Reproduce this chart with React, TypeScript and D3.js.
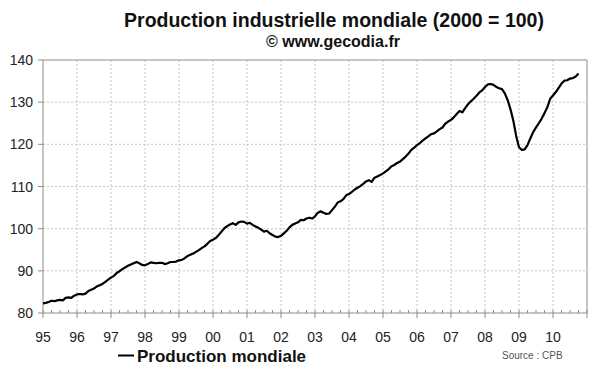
import React from "react";
import * as d3 from "d3";

// monthly index, 2000 = 100, Jan 1995 -> Oct 2010
const values1995 = [82.3, 82.4, 82.6, 82.9, 82.8, 83.0, 83.1, 83.0, 83.6, 83.7, 83.6, 84.1];
const values1996 = [84.4, 84.5, 84.4, 84.6, 85.2, 85.5, 85.8, 86.3, 86.6, 86.9, 87.4, 87.9];
const values1997 = [88.4, 88.8, 89.5, 89.9, 90.4, 90.8, 91.2, 91.5, 91.8, 92.1, 91.8, 91.4];
const values1998 = [91.3, 91.6, 92.0, 91.9, 91.8, 91.9, 91.9, 91.6, 91.8, 92.1, 92.1, 92.2];
const values1999 = [92.5, 92.6, 93.0, 93.5, 93.8, 94.1, 94.5, 94.9, 95.4, 95.8, 96.4, 97.1];
const values2000 = [97.4, 97.8, 98.5, 99.3, 100.1, 100.6, 101.0, 101.3, 100.9, 101.5, 101.7, 101.6];
const values2001 = [101.2, 101.4, 100.9, 100.5, 100.2, 99.8, 99.3, 99.5, 98.9, 98.5, 98.1, 98.0];
const values2002 = [98.3, 98.9, 99.5, 100.3, 100.9, 101.2, 101.5, 102.1, 102.0, 102.4, 102.6, 102.4];
const values2003 = [102.9, 103.8, 104.1, 103.8, 103.5, 103.6, 104.4, 105.2, 106.2, 106.5, 107.0, 107.9];
const values2004 = [108.2, 108.7, 109.3, 109.7, 110.1, 110.6, 111.2, 111.5, 111.1, 112.1, 112.4, 112.7];
const values2005 = [113.1, 113.6, 114.1, 114.8, 115.1, 115.6, 115.9, 116.5, 117.1, 117.8, 118.7, 119.2];
const values2006 = [119.8, 120.3, 120.9, 121.4, 121.9, 122.4, 122.6, 123.1, 123.6, 124.0, 124.9, 125.4];
const values2007 = [125.8, 126.4, 127.2, 127.9, 127.6, 128.6, 129.5, 130.2, 130.8, 131.5, 132.3, 132.8];
const values2008 = [133.6, 134.2, 134.3, 134.1, 133.6, 133.3, 133.1, 132.1, 130.5, 128.3, 125.6, 122.0];
const values2009 = [119.3, 118.7, 118.8, 119.8, 121.4, 122.9, 124.0, 125.0, 126.1, 127.4, 128.8, 130.8];
const values2010 = [131.6, 132.4, 133.4, 134.4, 135.1, 135.2, 135.6, 135.7, 136.1, 136.8];

const production = [
  ...values1995, ...values1996, ...values1997, ...values1998,
  ...values1999, ...values2000, ...values2001, ...values2002,
  ...values2003, ...values2004, ...values2005, ...values2006,
  ...values2007, ...values2008, ...values2009, ...values2010,
];

const yearLabels = ["95", "96", "97", "98", "99", "00", "01", "02", "03", "04", "05", "06", "07", "08", "09", "10"];
const yTicks = [80, 90, 100, 110, 120, 130, 140];

const left = 43;
const right = 587;
const top = 60;
const bottom = 313;
const axisColor = "#8c8c8c";
const font = "Arial, 'Liberation Sans', sans-serif";

const App = () => {
  const nMonths = yearLabels.length * 12;
  const x = d3.scaleLinear().domain([0, nMonths]).range([left, right]);
  const y = d3.scaleLinear().domain([80, 140]).range([bottom, top]);

  const line = d3
    .line<number>()
    .x((d, i) => x(i))
    .y((d) => y(d));

  const minorTicks = d3.range(0, nMonths + 1, 3).filter((m) => m % 12 !== 0);
  const majorTicks = d3.range(0, nMonths + 1, 12);

  return (
    <svg
      width={600}
      height={372}
      style={{ position: "absolute", left: 0, top: 0, background: "#fff" }}
      fontFamily={font}
    >
      <text x={334} y={27} textAnchor="middle" fontSize={19.5} fontWeight="bold" fill="#111">
        Production industrielle mondiale (2000 = 100)
      </text>
      <text x={333} y={47} textAnchor="middle" fontSize={16} fontWeight="bold" fill="#111">
        © www.gecodia.fr
      </text>

      {/* grid */}
      {yTicks.filter((t) => t > 80 && t < 140).map((t) => (
        <line key={"gy" + t} x1={left} x2={right} y1={y(t)} y2={y(t)}
          stroke="#c4c4c4" strokeDasharray="2,2" />
      ))}
      {majorTicks.filter((m) => m > 0 && m < nMonths).map((m) => (
        <line key={"gx" + m} x1={x(m)} x2={x(m)} y1={top} y2={bottom}
          stroke="#c4c4c4" strokeDasharray="2,2" />
      ))}

      {/* frame */}
      <line x1={left} x2={right} y1={top} y2={top} stroke={axisColor} />
      <line x1={right} x2={right} y1={top} y2={bottom} stroke={axisColor} />
      <line x1={left} x2={left} y1={top} y2={bottom} stroke={axisColor} />
      <line x1={left} x2={right} y1={bottom} y2={bottom} stroke={axisColor} />

      {/* y axis */}
      {yTicks.map((t) => (
        <g key={"yt" + t}>
          <line x1={left - 5} x2={left} y1={y(t)} y2={y(t)} stroke={axisColor} />
          <text x={33} y={y(t) + 5} textAnchor="end" fontSize={14} fill="#222">{t}</text>
        </g>
      ))}

      {/* x axis */}
      {majorTicks.map((m) => (
        <line key={"xt" + m} x1={x(m)} x2={x(m)} y1={bottom - 3} y2={bottom + 5} stroke={axisColor} />
      ))}
      {minorTicks.map((m) => (
        <line key={"xm" + m} x1={x(m)} x2={x(m)} y1={bottom - 3} y2={bottom} stroke={axisColor} />
      ))}
      {yearLabels.map((lab, i) => (
        <text key={lab} x={x(i * 12)} y={342} textAnchor="middle" fontSize={14} fill="#222">{lab}</text>
      ))}

      <path d={line(production) || ""} fill="none" stroke="#000" strokeWidth={2.2} strokeLinejoin="round" />

      {/* legend */}
      <line x1={118} x2={134} y1={355.5} y2={355.5} stroke="#000" strokeWidth={2} />
      <text x={137} y={362} fontSize={17} fontWeight="bold" fill="#111">Production mondiale</text>
      <text x={502} y={359} fontSize={10} fill="#555">Source : CPB</text>
    </svg>
  );
};

export default App;
